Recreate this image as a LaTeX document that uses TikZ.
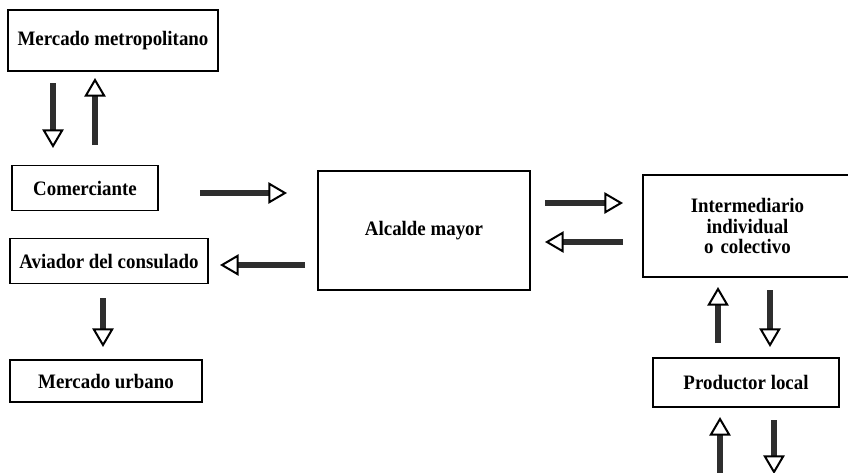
\documentclass[tikz,border=0pt]{standalone}
\usepackage{fontspec}
\setmainfont{Liberation Serif}[FakeStretch=0.92]
\usepackage{tikz}
\usetikzlibrary{arrows.meta}

\tikzset{
  caja/.style={draw, line width=1pt, inner sep=0pt, align=center,
    font=\bfseries\fontsize{15.4}{15.6}\selectfont},
  flujo/.style={draw=black!82, line width=4.5pt,
    -{Triangle[length=14pt,width=16pt,line width=1.5pt,color=black,fill=white]}}
}

\begin{document}
\begin{tikzpicture}[x=0.75pt,y=-0.75pt]
    \useasboundingbox (0,0) rectangle (848,472);

    % Boxes
    \node[caja, minimum width=157.5pt, minimum height=45.75pt] (metro) at (113,40.5) {Mercado metropolitano};
    \node[caja, minimum width=109.5pt, minimum height=33.75pt] (comerciante) at (85,188) {Comerciante};
    \node[caja, minimum width=148.5pt, minimum height=33.75pt] (aviador) at (109,261) {Aviador del consulado};
    \node[caja, minimum width=144pt, minimum height=31.5pt] (urbano) at (106,381) {Mercado urbano};
    \node[caja, minimum width=159pt, minimum height=89.25pt] (alcalde) at (424,230.5) {Alcalde mayor};
    \node[caja, minimum width=156.75pt, minimum height=76.5pt, text width=150pt] (inter) at (747.5,226) {Intermediario\\individual\\o colectivo};
    \node[caja, minimum width=139.5pt, minimum height=36.75pt] (productor) at (746,382.5) {Productor local};

    % Arrow ends
    \coordinate (m1a) at (53,83);   \coordinate (m1b) at (53,148);
    \coordinate (m2a) at (95,145);  \coordinate (m2b) at (95,78);
    \coordinate (caa) at (200,193); \coordinate (cab) at (287,193);
    \coordinate (ava) at (305,265); \coordinate (avb) at (220,265);
    \coordinate (aua) at (103,298); \coordinate (aub) at (103,347);
    \coordinate (aia) at (545,203); \coordinate (aib) at (623,203);
    \coordinate (iaa) at (623,242); \coordinate (iab) at (545,242);
    \coordinate (pia) at (718,343); \coordinate (pib) at (718,287);
    \coordinate (ipa) at (770,290); \coordinate (ipb) at (770,347);
    \coordinate (q1a) at (720,474); \coordinate (q1b) at (720,417);
    \coordinate (q2a) at (774,420); \coordinate (q2b) at (774,474);

    % Arrows
    \draw[flujo] (m1a) -- (m1b);
    \draw[flujo] (m2a) -- (m2b);
    \draw[flujo] (caa) -- (cab);
    \draw[flujo] (ava) -- (avb);
    \draw[flujo] (aua) -- (aub);
    \draw[flujo] (aia) -- (aib);
    \draw[flujo] (iaa) -- (iab);
    \draw[flujo] (pia) -- (pib);
    \draw[flujo] (ipa) -- (ipb);
    \draw[flujo] (q1a) -- (q1b);
    \draw[flujo] (q2a) -- (q2b);
\end{tikzpicture}
\end{document}
